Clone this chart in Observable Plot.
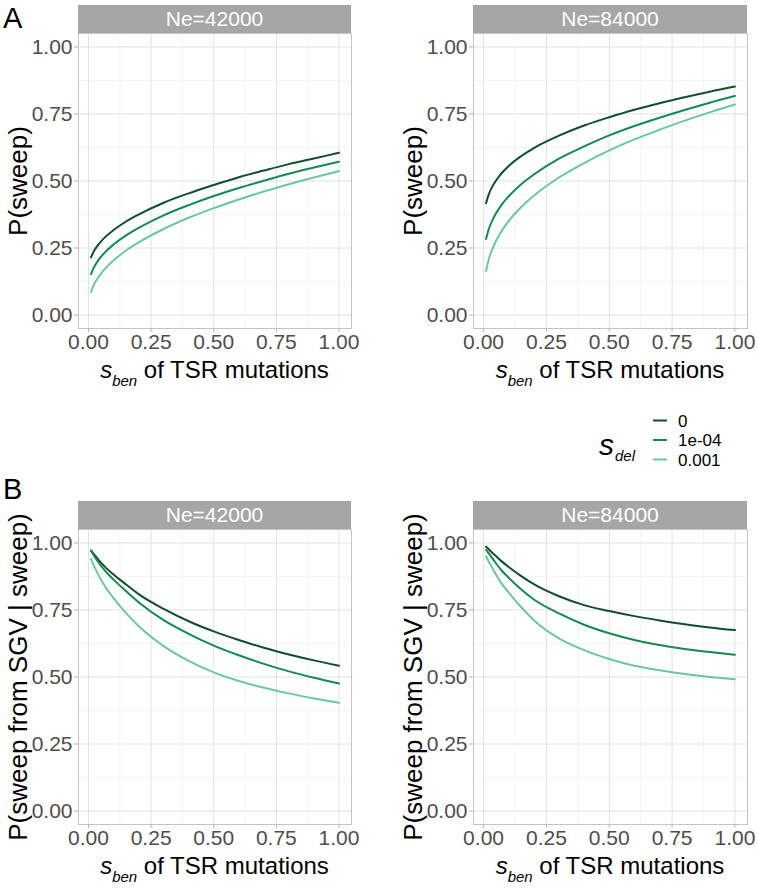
<!DOCTYPE html>
<html>
<head>
<meta charset="utf-8">
<script src="https://cdn.jsdelivr.net/npm/d3@7"></script>
<script src="https://cdn.jsdelivr.net/npm/@observablehq/plot@0.6"></script>
<style>
  html, body { margin: 0; padding: 0; background: #fff; }
  #chart { position: relative; width: 757px; height: 889px; background: #fff; font-family: "Liberation Sans", Arial, Helvetica, sans-serif; overflow: hidden; }
  .abs { position: absolute; white-space: nowrap; line-height: 1; }
  .strip { position: absolute; background: #a6a6a6; color: #fff; font-size: 21px; text-align: center; line-height: 28px; height: 28px; }
  .ytitle { position: absolute; white-space: nowrap; line-height: 1; font-size: 26px; color: #000; transform: translate(-50%, -50%) rotate(-90deg); }
  .xtitle { position: absolute; white-space: nowrap; line-height: 1; font-size: 24px; color: #000; transform: translateX(-50%); }
  .xtitle .sub { font-style: italic; font-size: 15px; position: relative; top: 8px; }
  .panel { position: absolute; }
</style>
</head>
<body>
<div id="chart"></div>
<script>
// ---- data ----
const sben = [0.01, 0.02, 0.04, 0.07, 0.1, 0.15, 0.2, 0.3, 0.4, 0.5, 0.6, 0.7, 0.8, 0.9, 1.0];
const sdelLevels = ["0", "1e-04", "0.001"];
const sdelColors = ["#104e2e", "#168a4e", "#6cc79c"];
const neLabels = ["Ne=42000", "Ne=84000"];
const majorTicks = [0, 0.25, 0.5, 0.75, 1];
const minorTicks = [0.125, 0.375, 0.625, 0.875];

// P(sweep), Ne=42000
const pSweep_42000_0     = [0.215, 0.236, 0.264, 0.294, 0.317, 0.349, 0.375, 0.419, 0.454, 0.485, 0.514, 0.539, 0.563, 0.584, 0.605];
const pSweep_42000_1e04  = [0.153, 0.175, 0.206, 0.238, 0.263, 0.297, 0.325, 0.372, 0.410, 0.444, 0.474, 0.501, 0.527, 0.550, 0.572];
const pSweep_42000_0001  = [0.086, 0.110, 0.142, 0.177, 0.204, 0.241, 0.271, 0.321, 0.363, 0.399, 0.431, 0.461, 0.488, 0.513, 0.537];
// P(sweep), Ne=84000
const pSweep_84000_0     = [0.417, 0.448, 0.488, 0.527, 0.556, 0.593, 0.623, 0.669, 0.707, 0.738, 0.766, 0.790, 0.812, 0.833, 0.852];
const pSweep_84000_1e04  = [0.284, 0.318, 0.363, 0.409, 0.443, 0.488, 0.524, 0.583, 0.629, 0.670, 0.705, 0.736, 0.765, 0.792, 0.817];
const pSweep_84000_0001  = [0.165, 0.205, 0.257, 0.310, 0.351, 0.403, 0.445, 0.513, 0.567, 0.614, 0.655, 0.691, 0.725, 0.756, 0.785];
// P(sweep from SGV | sweep), Ne=42000
const pSGV_42000_0       = [0.972, 0.960, 0.937, 0.907, 0.882, 0.845, 0.809, 0.754, 0.708, 0.670, 0.638, 0.609, 0.584, 0.562, 0.542];
const pSGV_42000_1e04    = [0.971, 0.955, 0.927, 0.892, 0.863, 0.820, 0.779, 0.712, 0.661, 0.617, 0.581, 0.549, 0.521, 0.497, 0.476];
const pSGV_42000_0001    = [0.940, 0.918, 0.880, 0.832, 0.794, 0.738, 0.690, 0.615, 0.560, 0.517, 0.485, 0.460, 0.439, 0.420, 0.404];
// P(sweep from SGV | sweep), Ne=84000
const pSGV_84000_0       = [0.986, 0.977, 0.959, 0.933, 0.910, 0.876, 0.846, 0.801, 0.768, 0.746, 0.727, 0.711, 0.697, 0.685, 0.675];
const pSGV_84000_1e04    = [0.975, 0.962, 0.936, 0.899, 0.870, 0.826, 0.789, 0.737, 0.695, 0.663, 0.638, 0.619, 0.604, 0.593, 0.583];
const pSGV_84000_0001    = [0.949, 0.932, 0.898, 0.851, 0.815, 0.760, 0.712, 0.644, 0.600, 0.567, 0.542, 0.525, 0.511, 0.500, 0.492];

function table(series) {
  const rows = [];
  series.forEach((vals, i) => vals.forEach((p, j) => rows.push({s: sben[j], p, sdel: sdelLevels[i]})));
  return rows;
}

const panels = [
  {left: 78,  top: 33,  w: 273, h: 295, ne: neLabels[0], data: table([pSweep_42000_0, pSweep_42000_1e04, pSweep_42000_0001])},
  {left: 473, top: 33,  w: 274, h: 295, ne: neLabels[1], data: table([pSweep_84000_0, pSweep_84000_1e04, pSweep_84000_0001])},
  {left: 78,  top: 529, w: 273, h: 295, ne: neLabels[0], data: table([pSGV_42000_0, pSGV_42000_1e04, pSGV_42000_0001])},
  {left: 473, top: 529, w: 274, h: 295, ne: neLabels[1], data: table([pSGV_84000_0, pSGV_84000_1e04, pSGV_84000_0001])}
];

const chart = document.getElementById("chart");
const ML = 70, MR = 3, MB = 34;
const fmt = d3.format(".2f");

panels.forEach((pn, idx) => {
  const svg = Plot.plot({
    width: ML + pn.w + MR,
    height: pn.h + MB,
    marginLeft: ML, marginRight: MR, marginTop: 0, marginBottom: MB,
    style: {fontFamily: "'Liberation Sans', Arial, sans-serif", fontSize: "21px", background: "transparent", overflow: "visible"},
    x: {domain: [-0.04, 1.05]},
    y: {domain: [-0.05, 1.05]},
    color: {domain: sdelLevels, range: sdelColors},
    marks: [
      Plot.gridX(minorTicks, {stroke: "#efefef", strokeOpacity: 1, strokeWidth: 0.7}),
      Plot.gridY(minorTicks, {stroke: "#efefef", strokeOpacity: 1, strokeWidth: 0.7}),
      Plot.gridX(majorTicks, {stroke: "#e2e2e2", strokeOpacity: 1, strokeWidth: 1}),
      Plot.gridY(majorTicks, {stroke: "#e2e2e2", strokeOpacity: 1, strokeWidth: 1}),
      Plot.frame({stroke: "#c4c4c4", strokeWidth: 1}),
      Plot.axisX(majorTicks, {tickFormat: fmt, tickSize: 4, tickPadding: 2, stroke: "#b3b3b3", fill: "#4d4d4d", fontSize: 21, label: null}),
      Plot.axisY(majorTicks, {tickFormat: fmt, tickSize: 4, tickPadding: 2, stroke: "#b3b3b3", fill: "#4d4d4d", fontSize: 21, label: null}),
      Plot.line(pn.data, {x: "s", y: "p", stroke: "sdel", z: "sdel", strokeWidth: 2, curve: "monotone-x"})
    ]
  });
  svg.classList.add("panel");
  svg.style.left = (pn.left - ML) + "px";
  svg.style.top = pn.top + "px";
  chart.appendChild(svg);

  // strip
  const st = document.createElement("div");
  st.className = "strip";
  st.style.left = pn.left + "px";
  st.style.top = (pn.top - 28) + "px";
  st.style.width = pn.w + "px";
  st.textContent = pn.ne;
  chart.appendChild(st);

  // x title
  const xt = document.createElement("div");
  xt.className = "xtitle";
  xt.style.left = (pn.left + pn.w / 2) + "px";
  xt.style.top = (pn.top + pn.h + 50 - 20) + "px";
  xt.innerHTML = '<i>s</i><span class="sub">ben</span> of TSR mutations';
  chart.appendChild(xt);

  // y title
  const yt = document.createElement("div");
  yt.className = "ytitle";
  yt.style.left = (pn.left - 60) + "px";
  yt.style.top = (pn.top + pn.h / 2) + "px";
  yt.textContent = idx < 2 ? "P(sweep)" : "P(sweep from SGV | sweep)";
  chart.appendChild(yt);
});

// panel tags
[["A", 3.5], ["B", 474.5]].forEach(([t, top]) => {
  const d = document.createElement("div");
  d.className = "abs";
  d.style.left = "3px";
  d.style.top = top + "px";
  d.style.fontSize = "29px";
  d.textContent = t;
  chart.appendChild(d);
});

// legend
const leg = d3.select(chart).append("svg")
  .attr("width", 170).attr("height", 72)
  .style("position", "absolute").style("left", "590px").style("top", "404px")
  .style("font-family", "'Liberation Sans', Arial, sans-serif");
const lt = leg.append("text").attr("x", 9).attr("y", 51);
lt.append("tspan").attr("font-style", "italic").attr("font-size", 30).text("s");
lt.append("tspan").attr("font-style", "italic").attr("font-size", 15).attr("dy", 6).attr("dx", 1).text("del");
sdelLevels.forEach((lev, i) => {
  const cy = 16.5 + i * 19.5;
  leg.append("line").attr("x1", 63).attr("x2", 77).attr("y1", cy).attr("y2", cy)
    .attr("stroke", sdelColors[i]).attr("stroke-width", 2);
  leg.append("text").attr("x", 88).attr("y", cy + 6).attr("font-size", 17).attr("fill", "#000").text(lev);
});
</script>
</body>
</html>
